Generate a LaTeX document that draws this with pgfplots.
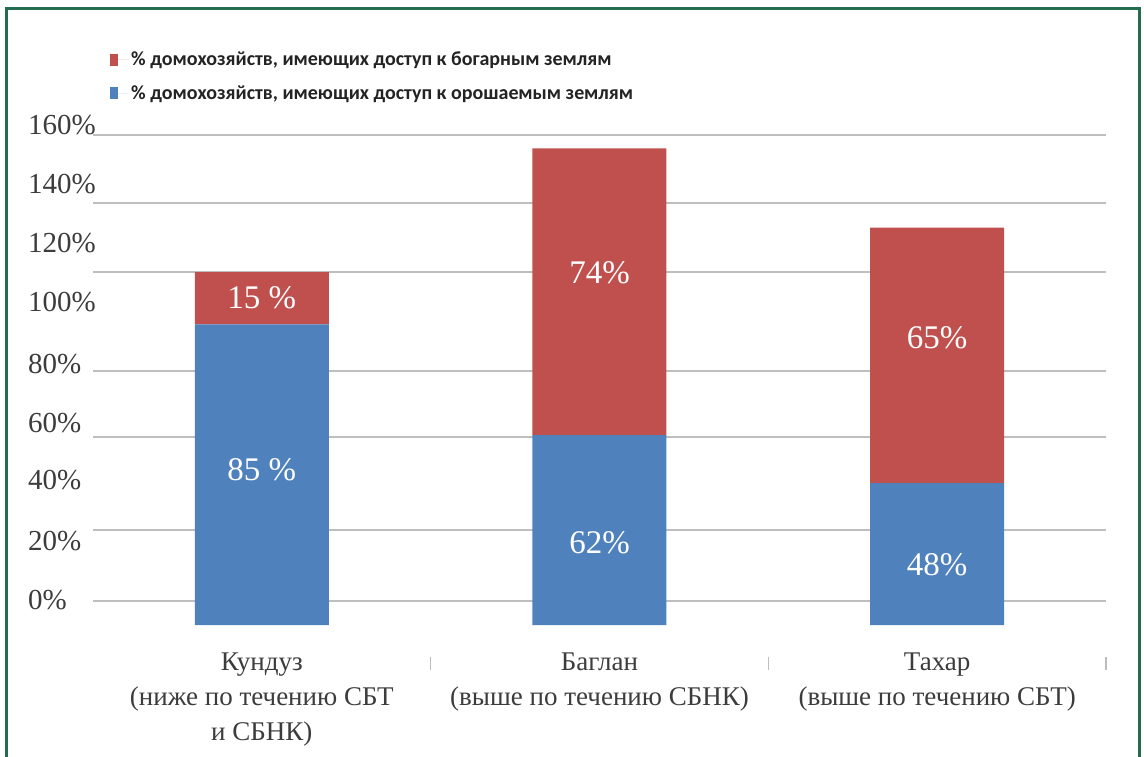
\documentclass[border=0pt]{standalone}
\usepackage{fontspec}
\setmainfont{Liberation Serif}
\newfontfamily\legfont{Carlito}
\usepackage{pgfplots}
\usepackage{pgfplotstable}
\pgfplotsset{compat=1.18}
\definecolor{barblue}{RGB}{79,129,189}
\definecolor{barred}{RGB}{192,80,77}
\definecolor{gridgray}{RGB}{190,190,190}
\definecolor{framegreen}{RGB}{35,108,80}
\definecolor{txt}{RGB}{60,60,60}
\definecolor{legtxt}{RGB}{35,35,35}

\pgfplotstableread{
x blue red
0 85.2 14.8
1 53.8 81.2
2 40.2 72.4
}\datatable

\begin{document}
\begin{tikzpicture}
\path[use as bounding box, fill=white] (0pt,0pt) rectangle (1144pt,756pt);
\draw[framegreen, line width=3pt] (6pt,-2pt) -- (6pt,747pt) -- (1139.5pt,747pt) -- (1139.5pt,-2pt);
\begin{axis}[
  at={(93pt,93pt)}, anchor=south west,
  scale only axis, width=1013pt, height=549.83pt,
  xmin=-0.5, xmax=2.5, ymin=-10.76, ymax=145,
  ybar stacked, bar width=134pt,
  axis line style={draw=none},
  xtick pos=bottom, ytick pos=left,
  major tick length=0pt,
  ytick={7.08,23.8,41.1,57.2,73.9,91.5,108.2,124.9,141.6},
  yticklabels={0\%,20\%,40\%,60\%,80\%,100\%,120\%,140\%,160\%},
  ytick style={draw=none},
  yticklabel style={anchor=west, inner sep=0pt, xshift=-65pt, text=txt, font=\fontsize{29}{30}\selectfont},
  extra y ticks={138.95,119.5,99.94,71.95,53.26,26.9,6.9},
  extra y tick labels={},
  extra y tick style={grid=major, major grid style={gridgray, line width=2pt}, tick style={draw=none}},
  xtick={0,1,2},
  xticklabels={{Кундуз\\(ниже по течению СБТ\\и СБНК)},{Баглан\\(выше по течению СБНК)},{Тахар\\(выше по течению СБТ)}},
  xticklabel style={align=center, anchor=north, inner sep=0pt, yshift=10pt, text=txt, font=\fontsize{27}{35}\selectfont},
  extra x ticks={0.5,1.5,2.5},
  extra x tick labels={},
  extra x tick style={tick align=center, major tick length=13pt, tick style={draw=gridgray, line width=1.5pt}},
  reverse legend,
  legend style={at={(axis description cs:0.0168,1.1149)}, anchor=north west, draw=none, fill=none,
    font=\legfont\bfseries\fontsize{20}{22}\selectfont, text=legtxt, row sep=14pt, inner sep=0pt,
    cells={anchor=west}},
  legend image code/.code={\fill[#1,draw=none] (0pt,-6pt) rectangle (8pt,6pt); \path (0pt,0pt) -- (19pt,0pt);},
]
\addplot[fill=barblue, draw=none] table[x=x, y=blue] {\datatable};
\addplot[fill=barred, draw=none] table[x=x, y=red] {\datatable};
\legend{{\% домохозяйств, имеющих доступ к орошаемым землям},{\% домохозяйств, имеющих доступ к богарным землям}}
\end{axis}
\begin{axis}[
  at={(93pt,93pt)}, anchor=south west,
  scale only axis, width=1013pt, height=549.83pt,
  xmin=-0.5, xmax=2.5, ymin=-10.76, ymax=145,
  hide axis,
  point meta=explicit symbolic,
  nodes near coords={\pgfplotspointmeta},
  every node near coord/.append style={anchor=center, text=white, font=\fontsize{33}{34}\selectfont},
]
\addplot[draw=none, mark=none, nodes near coords] coordinates {
  (0,43.9) [85 \%]
  (0,92.6) [15 \%]
  (1,23.2) [62\%]
  (1,99.7) [74\%]
  (2,17.0) [48\%]
  (2,81.3) [65\%]
};
\end{axis}
\end{tikzpicture}
\end{document}
